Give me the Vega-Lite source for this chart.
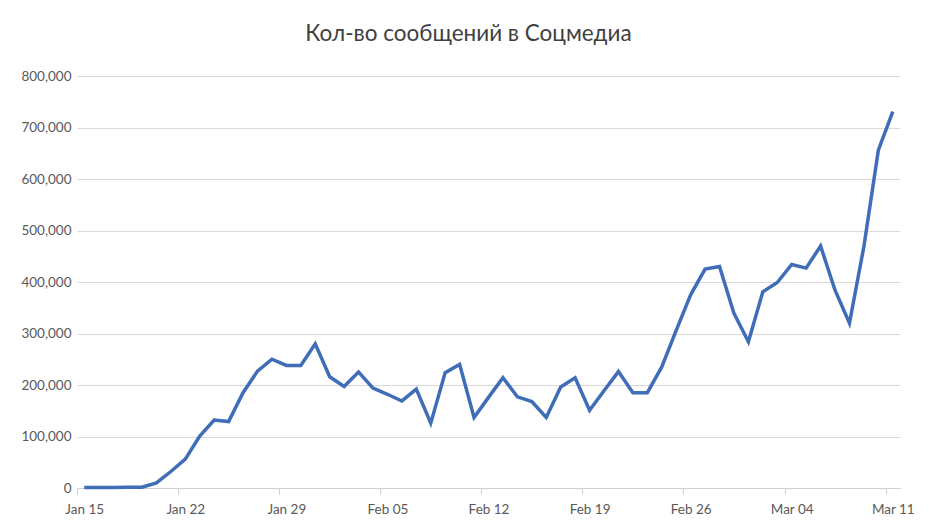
{
  "$schema": "https://vega.github.io/schema/vega-lite/v6.json",
  "autosize": "none",
  "width": 823,
  "height": 412,
  "padding": {"left": 77, "top": 76, "right": 35, "bottom": 39},
  "background": "white",
  "title": {
    "text": "Кол-во сообщений в Соцмедиа",
    "font": "Lato",
    "fontSize": 22.5,
    "fontWeight": "normal",
    "color": "#404040",
    "anchor": "middle",
    "dx": -20,
    "offset": 24
  },
  "data": {
    "values": [
      {"date": "2020-01-15", "count": 1000},
      {"date": "2020-01-16", "count": 1000},
      {"date": "2020-01-17", "count": 1200},
      {"date": "2020-01-18", "count": 1300},
      {"date": "2020-01-19", "count": 1500},
      {"date": "2020-01-20", "count": 10000},
      {"date": "2020-01-21", "count": 32000},
      {"date": "2020-01-22", "count": 56000},
      {"date": "2020-01-23", "count": 101000},
      {"date": "2020-01-24", "count": 132000},
      {"date": "2020-01-25", "count": 129000},
      {"date": "2020-01-26", "count": 185000},
      {"date": "2020-01-27", "count": 227000},
      {"date": "2020-01-28", "count": 250000},
      {"date": "2020-01-29", "count": 238000},
      {"date": "2020-01-30", "count": 238000},
      {"date": "2020-01-31", "count": 280000},
      {"date": "2020-02-01", "count": 216000},
      {"date": "2020-02-02", "count": 197000},
      {"date": "2020-02-03", "count": 225000},
      {"date": "2020-02-04", "count": 194000},
      {"date": "2020-02-05", "count": 182000},
      {"date": "2020-02-06", "count": 169000},
      {"date": "2020-02-07", "count": 192000},
      {"date": "2020-02-08", "count": 126000},
      {"date": "2020-02-09", "count": 224000},
      {"date": "2020-02-10", "count": 240000},
      {"date": "2020-02-11", "count": 137000},
      {"date": "2020-02-12", "count": 176000},
      {"date": "2020-02-13", "count": 214000},
      {"date": "2020-02-14", "count": 177000},
      {"date": "2020-02-15", "count": 168000},
      {"date": "2020-02-16", "count": 137000},
      {"date": "2020-02-17", "count": 196000},
      {"date": "2020-02-18", "count": 214000},
      {"date": "2020-02-19", "count": 151000},
      {"date": "2020-02-20", "count": 189000},
      {"date": "2020-02-21", "count": 226000},
      {"date": "2020-02-22", "count": 185000},
      {"date": "2020-02-23", "count": 185000},
      {"date": "2020-02-24", "count": 235000},
      {"date": "2020-02-25", "count": 306000},
      {"date": "2020-02-26", "count": 375000},
      {"date": "2020-02-27", "count": 425000},
      {"date": "2020-02-28", "count": 430000},
      {"date": "2020-02-29", "count": 339000},
      {"date": "2020-03-01", "count": 284000},
      {"date": "2020-03-02", "count": 381000},
      {"date": "2020-03-03", "count": 399000},
      {"date": "2020-03-04", "count": 434000},
      {"date": "2020-03-05", "count": 427000},
      {"date": "2020-03-06", "count": 470000},
      {"date": "2020-03-07", "count": 384000},
      {"date": "2020-03-08", "count": 320000},
      {"date": "2020-03-09", "count": 469000},
      {"date": "2020-03-10", "count": 656000},
      {"date": "2020-03-11", "count": 731000}
    ]
  },
  "mark": {"type": "line", "color": "#3f6db8", "strokeWidth": 3.5, "strokeJoin": "miter", "strokeCap": "butt"},
  "encoding": {
    "x": {
      "field": "date",
      "type": "temporal",
      "title": null,
      "scale": {
        "type": "utc",
        "domain": [
          {"year": 2020, "month": 1, "date": 14, "hours": 12, "utc": true},
          {"year": 2020, "month": 3, "date": 11, "hours": 12, "utc": true}
        ]
      },
      "axis": {
        "values": [
          {"year": 2020, "month": 1, "date": 15, "utc": true},
          {"year": 2020, "month": 1, "date": 22, "utc": true},
          {"year": 2020, "month": 1, "date": 29, "utc": true},
          {"year": 2020, "month": 2, "date": 5, "utc": true},
          {"year": 2020, "month": 2, "date": 12, "utc": true},
          {"year": 2020, "month": 2, "date": 19, "utc": true},
          {"year": 2020, "month": 2, "date": 26, "utc": true},
          {"year": 2020, "month": 3, "date": 4, "utc": true},
          {"year": 2020, "month": 3, "date": 11, "utc": true}
        ],
        "format": "%b %d",
        "grid": false,
        "tickOffset": -7.2,
        "labelOffset": 7.2,
        "tickSize": 6,
        "tickColor": "#d0d0d0",
        "domainColor": "#d0d0d0",
        "domainWidth": 1,
        "labelFont": "Lato",
        "labelFontSize": 13.5,
        "labelColor": "#595959",
        "labelPadding": 8,
        "labelFlush": false,
        "labelOverlap": false
      }
    },
    "y": {
      "field": "count",
      "type": "quantitative",
      "title": null,
      "scale": {"domain": [0, 800000], "nice": false},
      "axis": {
        "values": [0, 100000, 200000, 300000, 400000, 500000, 600000, 700000, 800000],
        "format": ",d",
        "domain": false,
        "ticks": false,
        "gridColor": "#d9d9d9",
        "gridWidth": 1,
        "labelFont": "Lato",
        "labelFontSize": 13.5,
        "labelColor": "#595959",
        "labelPadding": 6
      }
    }
  },
  "config": {
    "view": {"stroke": null}
  }
}
